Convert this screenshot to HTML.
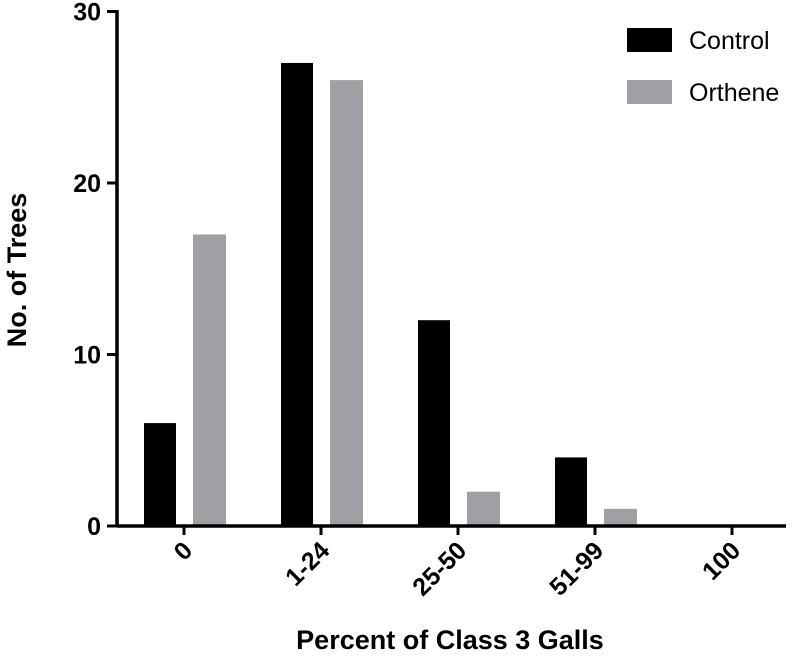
<!DOCTYPE html>
<html><head><meta charset="utf-8"><style>
body{margin:0;background:#fff;font-family:"Liberation Sans",sans-serif}
</style></head><body>
<svg width="799" height="655" viewBox="0 0 799 655">
<g id="bars"></g>
<g id="axes"></g>
<text x="26" y="270" transform="rotate(-90 26 270)" text-anchor="middle" font-size="27" font-weight="bold">No. of  Trees</text>
<text x="450" y="649" text-anchor="middle" font-size="27" font-weight="bold">Percent of Class 3 Galls</text>
<g>
<rect x="627" y="28" width="45" height="24" fill="#000"/>
<text x="689" y="49" font-size="25">Control</text>
<rect x="627" y="80" width="45" height="24" fill="#a0a0a4"/>
<text x="689" y="101" font-size="25">Orthene</text>
</g>
</svg>
<script>
const categories=["0","1-24","25-50","51-99","100"];
const control=[6,27,12,4,0];
const orthene=[17,26,2,1,0];
const yTicks=[0,10,20,30];
const ns="http://www.w3.org/2000/svg";
const y0=526,pxPer=17.15,x0=184,step=137,axisX=117;
const y=v=>y0-v*pxPer;
const xc=i=>x0+i*step;
function mk(t,a,p){const e=document.createElementNS(ns,t);for(const k in a)e.setAttribute(k,a[k]);p.appendChild(e);return e;}
const bars=document.getElementById('bars'),axes=document.getElementById('axes');
categories.forEach((c,i)=>{
  if(control[i]>0){const r=mk('rect',{x:xc(i)-40,y:y(control[i]),width:32,height:y0-y(control[i]),fill:'#000'},bars);
  
  }
  if(orthene[i]>0){const r=mk('rect',{x:xc(i)+9,y:y(orthene[i]),width:33,height:y0-y(orthene[i]),fill:'#a0a0a4'},bars);
  
  }
  const t=mk('line',{x1:xc(i),x2:xc(i),y1:y0,y2:y0+9,stroke:'#000','stroke-width':3},axes);
  
  
  const lx=xc(i)+10,ly=y0+26;
  const l=mk('text',{x:lx,y:ly,'text-anchor':'end','font-size':25,'font-weight':'bold',transform:`rotate(-45 ${lx} ${ly})`},axes);
  l.textContent=c;
  
  
});
yTicks.forEach(v=>{
  const t=mk('line',{x1:axisX-10,x2:axisX,y1:y(v),y2:y(v),stroke:'#000','stroke-width':3},axes);
  
  
  const l=mk('text',{x:axisX-16,y:y(v)+9,'text-anchor':'end','font-size':25,'font-weight':'bold'},axes);
  l.textContent=v;
  
  
});
const ya=mk('line',{x1:axisX,x2:axisX,y1:y(30)-1.5,y2:y0+1.5,stroke:'#000','stroke-width':3.5},axes);


const xa=mk('line',{x1:axisX,x2:786,y1:y0,y2:y0,stroke:'#000','stroke-width':3.5},axes);


</script>
</body></html>
